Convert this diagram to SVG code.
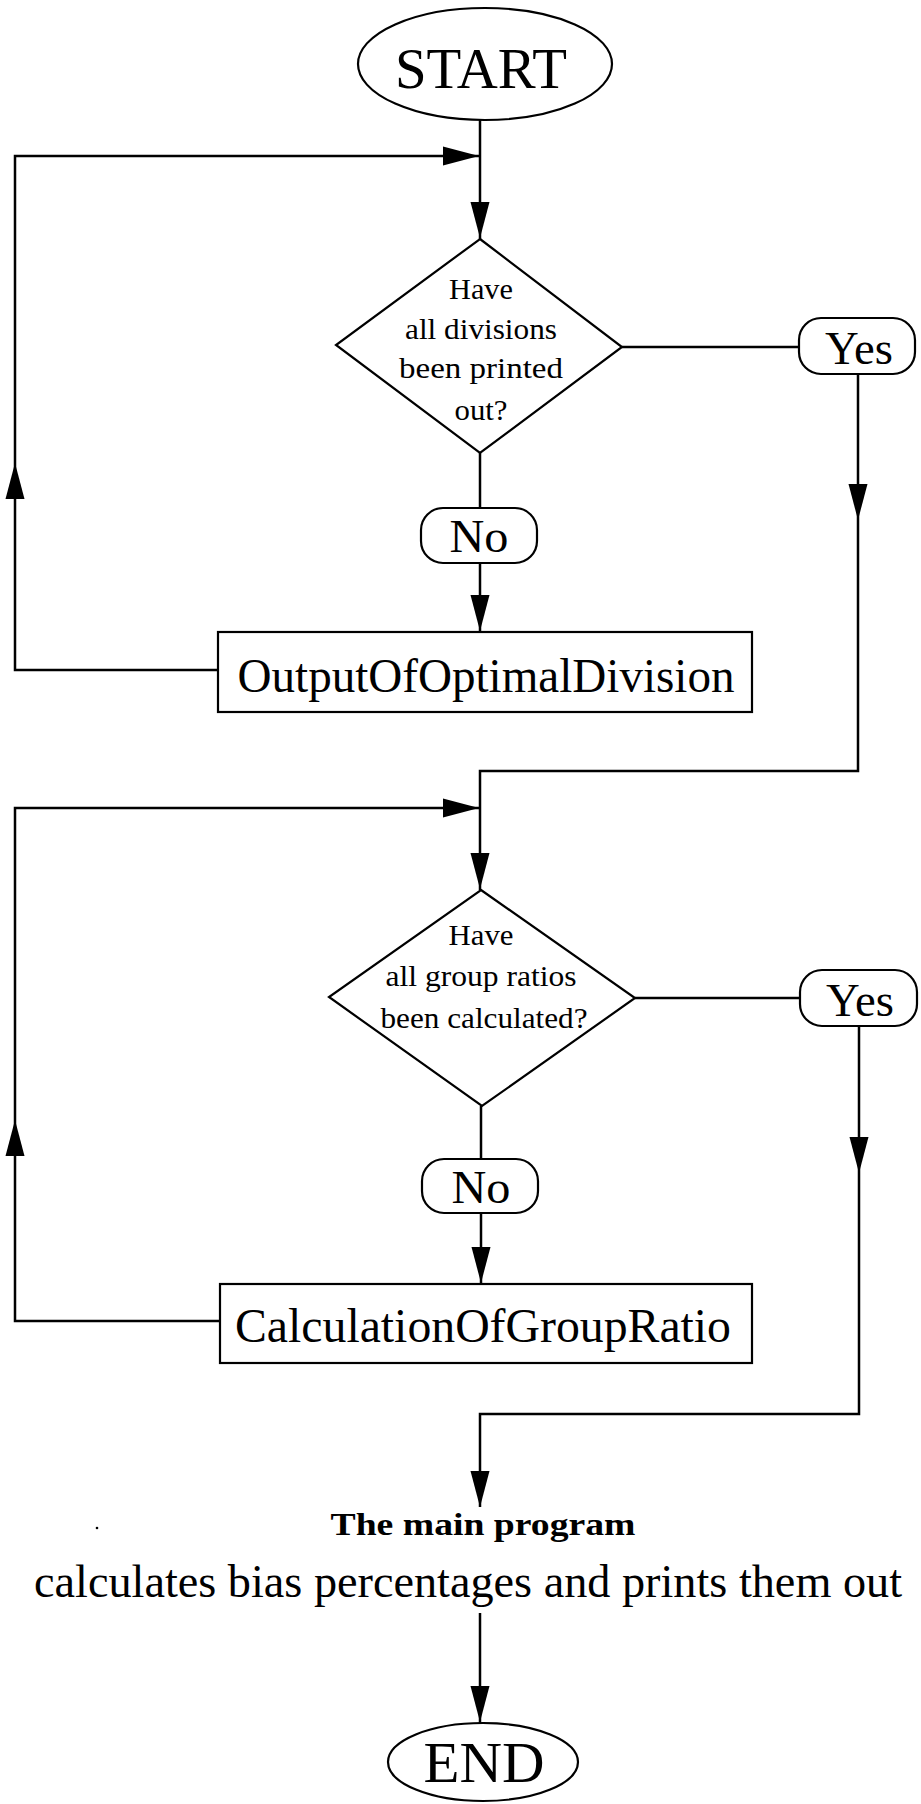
<svg xmlns="http://www.w3.org/2000/svg" width="921" height="1804" viewBox="0 0 921 1804">
  <style>
    .shape { fill: #ffffff; stroke: #000000; stroke-width: 2.2; }
    .wire { fill: none; stroke: #000000; stroke-width: 2.5; stroke-linejoin: miter; }
    .txt { font-family: "Liberation Serif", "Times New Roman", serif; fill: #000000; text-anchor: middle; }
    .big { font-size: 57px; }
    .lbl { font-size: 47px; }
    .proc { font-size: 48px; }
    .q { font-size: 29px; }
    .bold { font-weight: bold; font-size: 32px; }
  </style>
  <defs>
    <!-- filled arrowhead pointing down, tip at origin -->
    <polygon id="ah" points="0,0 -9.5,-36 9.5,-36" fill="#000000"/>
  </defs>
  <rect width="921" height="1804" fill="#ffffff"/>

  <g id="connectors">
    <!-- first loop -->
    <path class="wire" d="M480 120 V239"/>
    <path class="wire" d="M218 670 H15 V156 H480"/>
    <path class="wire" d="M480 453 V508"/>
    <path class="wire" d="M480 563 V632"/>
    <path class="wire" d="M622 347 H799"/>
    <path class="wire" d="M858 374 V771 H480 V890"/>
    <!-- second loop -->
    <path class="wire" d="M220 1321 H15 V808 H480"/>
    <path class="wire" d="M481 1106 V1159"/>
    <path class="wire" d="M481 1213 V1284"/>
    <path class="wire" d="M635 998 H800"/>
    <path class="wire" d="M859 1026 V1414 H480 V1507"/>
    <!-- to the end -->
    <path class="wire" d="M480 1613 V1723"/>
    <use href="#ah" transform="translate(480 238)"/>
    <use href="#ah" transform="translate(479 156) rotate(-90)"/>
    <use href="#ah" transform="translate(15 463) rotate(180)"/>
    <use href="#ah" transform="translate(480 631)"/>
    <use href="#ah" transform="translate(858 520)"/>
    <use href="#ah" transform="translate(479 808) rotate(-90)"/>
    <use href="#ah" transform="translate(480 889)"/>
    <use href="#ah" transform="translate(15 1120) rotate(180)"/>
    <use href="#ah" transform="translate(481 1283)"/>
    <use href="#ah" transform="translate(859 1173)"/>
    <use href="#ah" transform="translate(480 1507)"/>
    <use href="#ah" transform="translate(480 1722)"/>
  </g>

  <g id="start">
    <ellipse class="shape" cx="485" cy="64" rx="127" ry="56"/>
    <text class="txt big" x="481" y="88" textLength="172" lengthAdjust="spacingAndGlyphs">START</text>
  </g>

  <g id="decision-divisions">
    <polygon class="shape" points="480,239 622,347 480,453 336,345"/>
    <text class="txt q" x="481" y="299" textLength="64" lengthAdjust="spacingAndGlyphs">Have</text>
    <text class="txt q" x="481" y="339" textLength="152" lengthAdjust="spacingAndGlyphs">all divisions</text>
    <text class="txt q" x="481" y="378" textLength="164" lengthAdjust="spacingAndGlyphs">been printed</text>
    <text class="txt q" x="481" y="420" textLength="53" lengthAdjust="spacingAndGlyphs">out?</text>
  </g>

  <g id="yes-1">
    <rect class="shape" x="799" y="318" width="116" height="56" rx="22"/>
    <text class="txt lbl" x="859" y="364" textLength="68" lengthAdjust="spacingAndGlyphs">Yes</text>
  </g>

  <g id="no-1">
    <rect class="shape" x="421" y="508" width="116" height="55" rx="22"/>
    <text class="txt lbl" x="479" y="552" textLength="59" lengthAdjust="spacingAndGlyphs">No</text>
  </g>

  <g id="output-division">
    <rect class="shape" x="218" y="632" width="534" height="80"/>
    <text class="txt proc" x="486" y="692" textLength="497" lengthAdjust="spacingAndGlyphs">OutputOfOptimalDivision</text>
  </g>

  <g id="decision-ratios">
    <polygon class="shape" points="481,890 635,998 482,1106 329,997"/>
    <text class="txt q" x="481" y="945" textLength="65" lengthAdjust="spacingAndGlyphs">Have</text>
    <text class="txt q" x="481" y="986" textLength="191" lengthAdjust="spacingAndGlyphs">all group ratios</text>
    <text class="txt q" x="484" y="1028" textLength="207" lengthAdjust="spacingAndGlyphs">been calculated?</text>
  </g>

  <g id="yes-2">
    <rect class="shape" x="800" y="970" width="117" height="56" rx="22"/>
    <text class="txt lbl" x="860" y="1016" textLength="68" lengthAdjust="spacingAndGlyphs">Yes</text>
  </g>

  <g id="no-2">
    <rect class="shape" x="422" y="1159" width="116" height="54" rx="22"/>
    <text class="txt lbl" x="481" y="1203" textLength="59" lengthAdjust="spacingAndGlyphs">No</text>
  </g>

  <g id="group-ratio">
    <rect class="shape" x="220" y="1284" width="532" height="79"/>
    <text class="txt proc" x="483" y="1342" textLength="496" lengthAdjust="spacingAndGlyphs">CalculationOfGroupRatio</text>
  </g>

  <g id="main-program">
    <text class="txt bold" x="483" y="1535" textLength="305" lengthAdjust="spacingAndGlyphs">The main program</text>
    <text class="txt" x="34" y="1597" textLength="868" lengthAdjust="spacingAndGlyphs" style="text-anchor:start;font-size:46px">calculates bias percentages and prints them out</text>
    <circle cx="97" cy="1528" r="1.3" fill="#000000"/>
  </g>

  <g id="end">
    <ellipse class="shape" cx="483" cy="1762" rx="95" ry="39"/>
    <text class="txt big" x="484" y="1782" textLength="121" lengthAdjust="spacingAndGlyphs">END</text>
  </g>
</svg>
